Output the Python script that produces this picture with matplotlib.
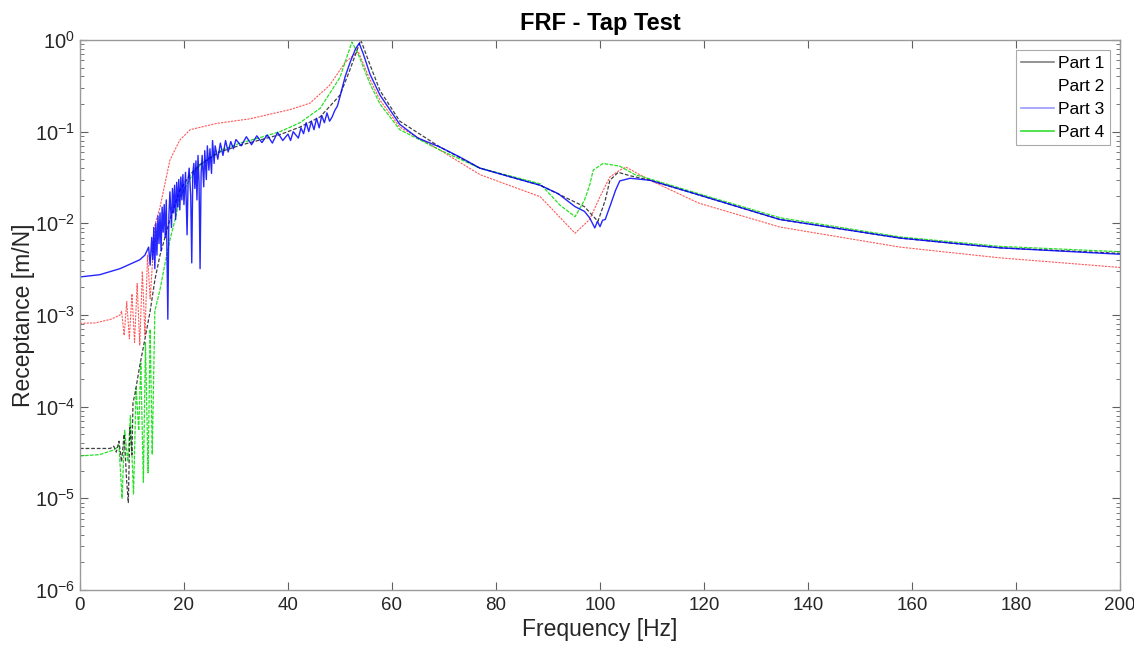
import matplotlib
matplotlib.use("Agg")
import matplotlib.pyplot as plt
from matplotlib.lines import Line2D
from matplotlib.ticker import LogLocator, NullFormatter

plt.rcParams['font.family'] = ['Liberation Sans', 'DejaVu Sans']

# ---------------- data ----------------
part1_f = [0, 3, 5.8, 6.5, 7.0, 7.5, 8.0, 8.5, 9.0, 9.3, 9.6, 10.0, 10.2, 10.6, 11.5, 12.5,
           13.5, 14.4, 15.4, 17.3, 19.2, 21.2, 23.1, 26.9, 30.8, 34.6, 38.5, 42.3, 46.2, 50,
           51.9, 54, 55.8, 57.7, 61.5, 69.2, 76.9, 88.5, 97, 99.6, 101, 101.9, 103.5, 105.8,
           109.6, 119, 134.6, 157.7, 176.9, 200]
part1_v = [3.5e-5, 3.5e-5, 3.5e-5, 3.7e-5, 3.2e-5, 4.2e-5, 2.5e-5, 5e-5, 1.5e-5, 9e-6, 6e-5,
           3e-5, 1.1e-4, 1.4e-4, 2.8e-4, 5.5e-4, 1.1e-3, 2.4e-3, 4.5e-3, 1.1e-2, 2.3e-2, 3.4e-2,
           4.4e-2, 6.0e-2, 7.1e-2, 8.1e-2, 9.3e-2, 0.112, 0.145, 0.25, 0.47, 1.0, 0.53, 0.28,
           0.13, 0.068, 0.040, 0.026, 0.0152, 0.0105, 0.0178, 0.0295, 0.036, 0.033, 0.0295,
           0.0204, 0.011, 0.0069, 0.0054, 0.0047]

part2_f = [0, 3, 6, 7.7, 8.0, 8.5, 9.0, 9.5, 10.0, 10.5, 11.0, 11.5, 12.0, 12.5, 13.0, 13.5,
           14.4, 15.4, 17.3, 19.2, 21.2, 26.3, 32.7, 40.4, 44.2, 48, 51, 53.5, 55.5, 57.7,
           61.5, 69.2, 76.9, 88.5, 95.2, 98, 100, 101.9, 103.8, 105, 109.6, 119, 134.6, 157.7,
           176.9, 200]
part2_v = [8.1e-4, 8.2e-4, 9e-4, 1.0e-3, 1.1e-3, 6e-4, 1.4e-3, 5.5e-4, 1.7e-3, 5e-4, 2.2e-3,
           4.7e-4, 3.0e-3, 6e-4, 4.5e-3, 1.5e-3, 9.5e-3, 1.5e-2, 4.9e-2, 8.1e-2, 0.105, 0.123,
           0.138, 0.174, 0.204, 0.32, 0.57, 0.75, 0.4, 0.22, 0.112, 0.063, 0.034, 0.0195,
           0.0078, 0.011, 0.0195, 0.032, 0.038, 0.041, 0.0295, 0.0166, 0.0091, 0.0055, 0.0042,
           0.0033]

# Part 3 as (frequency, receptance) pairs
part3_points = [
    (0, 2.6e-3), (3.8, 2.75e-3), (7.7, 3.2e-3), (11.5, 4.0e-3), (12.5, 4.5e-3),
    (13.2, 5.5e-3), (13.5, 3.5e-3), (13.8, 7e-3), (14.0, 4e-3), (14.2, 9e-3),
    (14.4, 3.2e-3), (14.6, 1.0e-2), (14.8, 4.5e-3), (15.0, 1.2e-2), (15.2, 6e-3),
    (15.4, 1.3e-2), (15.6, 5e-3), (15.8, 1.5e-2), (16.0, 8e-3), (16.2, 1.6e-2),
    (16.4, 7e-3), (16.6, 1.8e-2), (16.9, 9e-4), (17.1, 1.2e-2), (17.3, 2.2e-2),
    (17.6, 9e-3), (17.8, 2.4e-2), (18.0, 1.3e-2), (18.2, 2.6e-2), (18.4, 1.1e-2),
    (18.6, 2.8e-2), (18.8, 1.5e-2), (19.0, 3.0e-2), (19.2, 1.4e-2), (19.4, 3.2e-2),
    (19.6, 1.8e-2), (19.8, 3.4e-2), (20.0, 1.6e-2), (20.3, 3.6e-2), (20.6, 7.5e-3),
    (20.8, 3.0e-2), (21.0, 4.0e-2), (21.3, 2.0e-2), (21.5, 3.7e-3), (21.7, 3.5e-2),
    (21.9, 4.5e-2), (22.1, 2.4e-2), (22.3, 4.8e-2), (22.5, 1.8e-2), (22.7, 5.5e-2),
    (22.9, 2.8e-2), (23.1, 3.2e-3), (23.3, 3.5e-2), (23.5, 5.5e-2), (23.8, 2.5e-2),
    (24.0, 6.2e-2), (24.3, 3.0e-2), (24.5, 7e-2), (24.8, 3.8e-2), (25.0, 6.5e-2),
    (25.3, 3.5e-2), (25.5, 8e-2), (25.8, 4.5e-2), (26.0, 7e-2), (26.5, 5.0e-2),
    (27.0, 7.5e-2), (27.5, 5.5e-2), (28.0, 8e-2), (28.5, 6.0e-2), (29.0, 7.8e-2),
    (29.5, 6.5e-2), (30, 8.2e-2), (31, 7.0e-2), (32, 8.8e-2), (33, 7.2e-2),
    (34, 9.0e-2), (35, 7.6e-2), (36, 9.2e-2), (37, 7.5e-2), (38, 9.8e-2),
    (39, 8.0e-2), (40, 9.4e-2), (40.5, 8.0e-2), (41, 0.10), (42, 8.5e-2),
    (42.5, 0.11), (43, 0.095), (43.5, 0.125), (44, 0.10), (44.5, 0.13),
    (45, 0.105), (45.5, 0.14), (46, 0.11), (46.5, 0.15), (47, 0.125),
    (47.5, 0.16), (48, 0.13), (48.5, 0.145), (49, 0.17), (49.5, 0.19),
    (50, 0.24), (51, 0.40), (52, 0.58), (53, 0.80), (53.7, 0.92),
    (54.5, 0.70), (55.8, 0.42), (57.7, 0.25), (61.5, 0.12), (65, 0.085),
    (69.2, 0.068), (73, 0.053), (76.9, 0.040), (82, 0.033), (88.5, 0.026),
    (92, 0.021), (95.2, 0.0152), (97, 0.0135), (98, 0.0115), (99, 0.0089),
    (99.5, 0.0105), (100, 0.0092), (100.5, 0.0108), (101, 0.011), (102, 0.0158),
    (103, 0.023), (103.8, 0.029), (105.8, 0.031), (109.6, 0.0295), (119, 0.0204),
    (134.6, 0.011), (157.7, 0.0069), (176.9, 0.0054), (200, 0.0046),
]
part3_f = [p[0] for p in part3_points]
part3_v = [p[1] for p in part3_points]

part4_f = [0, 3.8, 6.7, 7.5, 8.1, 8.6, 9.2, 9.7, 10.3, 10.8, 11.3, 11.7, 12.2, 12.6, 13.1, 13.5,
           13.9, 14.4, 15.4, 16.3, 17.3, 18.3, 19.2, 21.2, 23.1, 26.9, 30.8, 34.6, 38.5, 42.3,
           46.2, 50, 52.3, 53.5, 55.8, 57.7, 61.5, 69.2, 76.9, 88.5, 92.3, 95.2, 97, 98, 98.7,
           100.6, 103.8, 106.7, 109.6, 119, 134.6, 157.7, 176.9, 200]
part4_v = [2.9e-5, 3.0e-5, 3.4e-5, 3.8e-5, 1.0e-5, 5.5e-5, 2.5e-5, 8e-5, 1.1e-5, 1.6e-4, 5.5e-5,
           3e-4, 1.5e-5, 5e-4, 1.9e-5, 7e-4, 3e-5, 1.1e-3, 1.9e-3, 3.5e-3, 6.6e-3, 1.1e-2,
           1.9e-2, 3.1e-2, 4.3e-2, 6.2e-2, 7.5e-2, 8.6e-2, 0.10, 0.125, 0.18, 0.39, 0.95, 0.7,
           0.33, 0.2, 0.105, 0.063, 0.040, 0.027, 0.0158, 0.0118, 0.0178, 0.026, 0.038, 0.045,
           0.042, 0.034, 0.0305, 0.021, 0.0115, 0.0071, 0.0056, 0.0049]

labels = ['Part 1', 'Part 2', 'Part 3', 'Part 4']
x_ticks = [0, 20, 40, 60, 80, 100, 120, 140, 160, 180, 200]

# ---------------- figure ----------------
fig = plt.figure(figsize=(11.34, 6.55), dpi=100)
ax = fig.add_axes([0.0705, 0.0992, 0.9172, 0.8398])

ax.plot(part2_f, part2_v, color='#ff3030', lw=0.8, ls=(0, (2, 1)), alpha=0.8)
ax.plot(part4_f, part4_v, color='#00dd00', lw=0.9, ls=(0, (3, 1)), alpha=0.85)
ax.plot(part1_f, part1_v, color='#202020', lw=0.9, ls=(0, (3, 1.5)), alpha=0.85)
ax.plot(part3_f, part3_v, color='#0000ff', lw=1.0, alpha=0.85)

ax.set_yscale('log')
ax.set_xlim(0, 200)
ax.set_ylim(1e-6, 1e0)
ax.set_xticks(x_ticks)
ax.yaxis.set_major_locator(LogLocator(base=10, numticks=10))
ax.yaxis.set_minor_locator(LogLocator(base=10, subs=range(2, 10), numticks=20))
ax.yaxis.set_minor_formatter(NullFormatter())
ax.xaxis.get_offset_text().set_visible(False)
ax.yaxis.get_offset_text().set_visible(False)

for s in ax.spines.values():
    s.set_color('#9a9a9a')
    s.set_linewidth(1.0)
ax.tick_params(which='both', direction='in', top=True, right=True, colors='#606060',
               labelcolor='#262626')
ax.tick_params(axis='x', labelsize=13.5, pad=5)
ax.tick_params(axis='y', labelsize=14.5)
ax.tick_params(which='major', length=6)
ax.tick_params(which='minor', length=3)

ax.set_xlabel('Frequency [Hz]', fontsize=16.5, color='#262626', labelpad=3)
ax.set_ylabel('Receptance [m/N]', fontsize=16.5, color='#262626', labelpad=0)
ax.set_title('FRF - Tap Test', fontsize=17, fontweight='bold', pad=7)

handles = [Line2D([], [], color='#808080', lw=1.2),
           Line2D([], [], color='white', lw=0, alpha=0),
           Line2D([], [], color='#9a9aff', lw=1.2),
           Line2D([], [], color='#33dd33', lw=1.2)]
leg = ax.legend(handles, labels, loc='upper right', fontsize=12.5, fancybox=False,
                framealpha=1, edgecolor='#aaaaaa', handlelength=1.9, handletextpad=0.25,
                borderpad=0.3, labelspacing=0.45, borderaxespad=0.6)
leg.get_frame().set_linewidth(0.8)

fig.savefig('out.png', dpi=100)
